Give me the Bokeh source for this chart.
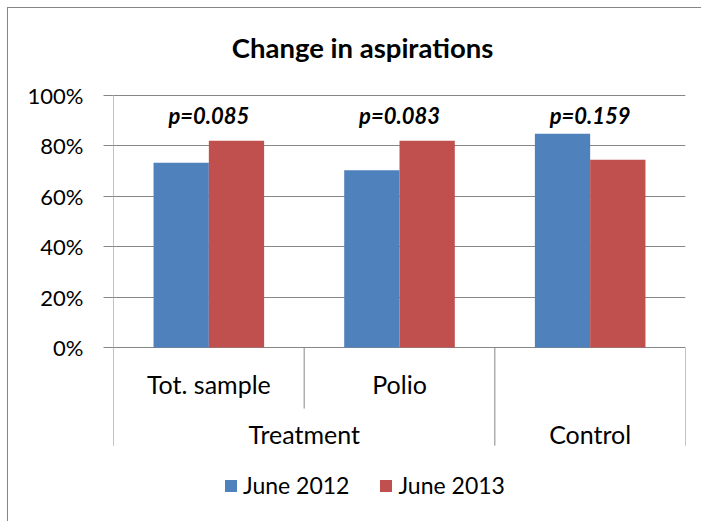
from bokeh.plotting import figure
from bokeh.models import (Range1d, FixedTicker, Legend, LegendItem,
                          ColumnDataSource, NumeralTickFormatter)
from bokeh.core.properties import value
from bokeh.embed import file_html
from bokeh.resources import INLINE

# ---- data ----
subgroups = ["Tot. sample", "Polio", ""]
groups = ["Treatment", "Control"]
group_spans = [(0, 2), (2, 3)]          # which subgroup slots each group covers
june_2012 = [0.733, 0.703, 0.848]
june_2013 = [0.820, 0.820, 0.745]
p_values = ["p=0.085", "p=0.083", "p=0.159"]
series_names = ["June 2012", "June 2013"]
y_ticks = [0, 0.2, 0.4, 0.6, 0.8, 1.0]
title_text = "Change in aspirations"

BLUE = "#4F81BD"
RED = "#C0504D"
GRID = "#868686"
FONT = "Lato"

n = len(subgroups)
centers = [i + 0.5 for i in range(n)]
bar_w = 0.29

# layout levels (in data units of the extended y range)
Y_MIN = -0.694
Y_MAX = 1.345
TITLE_Y = 1.19
TITLE_X = 1.306
Y_BOTTOM = -0.389
LEVEL1_Y = -0.143
LEVEL2_Y = -0.341
MID_DIV = -0.242

p = figure(width=694, height=514, output_backend="svg", toolbar_location=None,
           x_range=Range1d(0, n), y_range=Range1d(Y_MIN, Y_MAX), title=None,
           min_border_left=105, min_border_right=17, min_border_top=0,
           min_border_bottom=0)
p.margin = (7, 0, 0, 7)
p.styles = {"border-left": "1px solid #868686", "border-top": "1px solid #868686"}
p.outline_line_color = None
p.background_fill_color = "white"
p.border_fill_color = "white"

# axes
p.xaxis.visible = False
yax = p.yaxis[0]
yax.ticker = FixedTicker(ticks=y_ticks)
yax.formatter = NumeralTickFormatter(format="0%")
yax.axis_line_color = None
yax.major_tick_line_color = GRID
yax.major_tick_out = 10
yax.major_tick_in = 0
yax.minor_tick_line_color = None
yax.major_label_text_font = FONT
yax.major_label_text_font_size = "22px"
yax.major_label_text_color = "black"
yax.major_label_standoff = 20

p.xgrid.visible = False
p.ygrid.ticker = FixedTicker(ticks=y_ticks)
p.ygrid.grid_line_color = GRID
p.ygrid.grid_line_width = 1

# title
p.text(x=[TITLE_X], y=[TITLE_Y], text=[title_text], text_font=value(FONT),
       text_font_size="27.5px", text_font_style="bold", text_align="center",
       text_baseline="middle", text_color="black")

# bars
src = ColumnDataSource(dict(x=centers, p=p_values, sub=subgroups))
r1 = p.vbar(x=[c - bar_w / 2 for c in centers], top=june_2012, width=bar_w,
            bottom=0, fill_color=BLUE, line_color=None)
r2 = p.vbar(x=[c + bar_w / 2 for c in centers], top=june_2013, width=bar_w,
            bottom=0, fill_color=RED, line_color=None)

# p-value labels
p.text(x="x", y=0.921, text="p", source=src, text_font=value(FONT),
       text_font_size="22px", text_font_style="bold italic",
       text_align="center", text_baseline="middle", text_color="black")

# category labels (level 1)
p.text(x="x", y=LEVEL1_Y, text="sub", source=src, text_font=value(FONT),
       text_font_size="25px", text_align="center", text_baseline="middle",
       text_color="black")
# group labels (level 2)
p.text(x=[(a + b) / 2 for a, b in group_spans], y=LEVEL2_Y, text=groups,
       text_font=value(FONT), text_font_size="25px", text_align="center",
       text_baseline="middle", text_color="black")

# value axis line and divider lines below the axis
div_x = [0, 1, 2, 3]
div_top = [1.0, 0, 0, 0]
div_bottom = [Y_BOTTOM, MID_DIV, Y_BOTTOM, Y_BOTTOM]
p.segment(x0=div_x, y0=div_top, x1=div_x, y1=div_bottom, line_color=GRID,
          line_width=1)

# legend
legend = Legend(items=[LegendItem(label=series_names[0], renderers=[r1]),
                       LegendItem(label=series_names[1], renderers=[r2])],
                orientation="horizontal", location=(110, 23),
                label_text_font=FONT, label_text_font_size="23px",
                label_text_color="black",
                glyph_width=15, glyph_height=15, label_standoff=5,
                spacing=29, padding=0, margin=0, label_height=22,
                border_line_color=None, background_fill_alpha=0)
p.add_layout(legend, "center")

open("out.html", "w").write(file_html(p, INLINE))
